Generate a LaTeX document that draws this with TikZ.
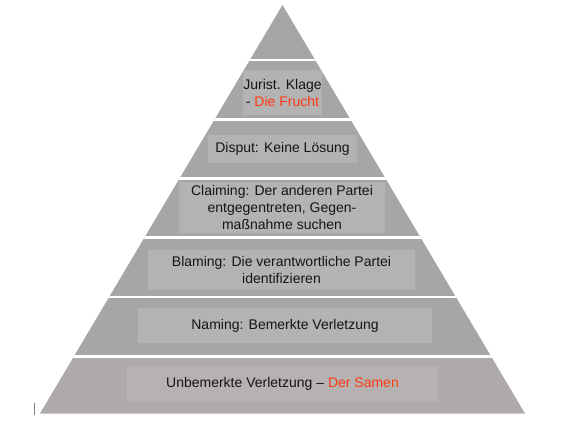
\documentclass[tikz,border=0pt]{standalone}
\usepackage{fontspec}
\setmainfont{Liberation Sans}
\definecolor{bandgray}{HTML}{A6A6A6}
\definecolor{bandlow}{HTML}{AEAAAA}
\definecolor{boxgray}{HTML}{B3B3B3}
\definecolor{boxlow}{HTML}{B6B2B2}
\definecolor{txt}{HTML}{151515}
\definecolor{redtxt}{HTML}{FF3A12}
\begin{document}
\begin{tikzpicture}[x=1pt,y=-1pt,
  inner/.style={fill=boxgray, draw=none, text=txt, align=center, inner sep=0pt,
    font=\fontsize{14}{17}\selectfont},
  sep/.style={draw=white, line width=2.6pt}]
\useasboundingbox (0,0) rectangle (570,427);
\fill[white] (0,0) rectangle (570,427);
\coordinate (apex) at (282.5,5);
\coordinate (bl) at (40,413.5);
\coordinate (br) at (525,413.5);
\begin{scope}
\clip (apex) -- (bl) -- (br) -- cycle;
\fill[bandgray] (0,0) rectangle (570,356.5);
\fill[bandlow] (0,356.5) rectangle (570,427);
\foreach \yy in {60,119.5,178.5,237.5,297,356.5}
  \draw[sep] (0,\yy) -- (570,\yy);
\end{scope}
\node[inner, minimum width=77pt, minimum height=45pt] (jur) at (282.5,92.5)
  {Jurist. Klage\\- \textcolor{redtxt}{Die Frucht}};
\node[inner, minimum width=149pt, minimum height=28pt] (disp) at (282.5,149)
  {Disput: Keine Lösung};
\node[inner, minimum width=206pt, minimum height=51pt] (claim) at (282,207.5)
  {Claiming: Der anderen Partei\\entgegentreten, Gegen-\\maßnahme suchen};
\node[inner, minimum width=267pt, minimum height=40pt] (blam) at (281.5,270)
  {Blaming: Die verantwortliche Partei\\identifizieren};
\node[inner, minimum width=294pt, minimum height=35pt] (nam) at (285,325.5)
  {Naming: Bemerkte Verletzung};
\node[inner, fill=boxlow, minimum width=311pt, minimum height=36pt] (unb) at (282.5,384)
  {Unbemerkte Verletzung -- \textcolor{redtxt}{Der Samen}};
\draw[gray, line width=0.8pt] (34,403) -- (34,415);
\end{tikzpicture}
\end{document}
